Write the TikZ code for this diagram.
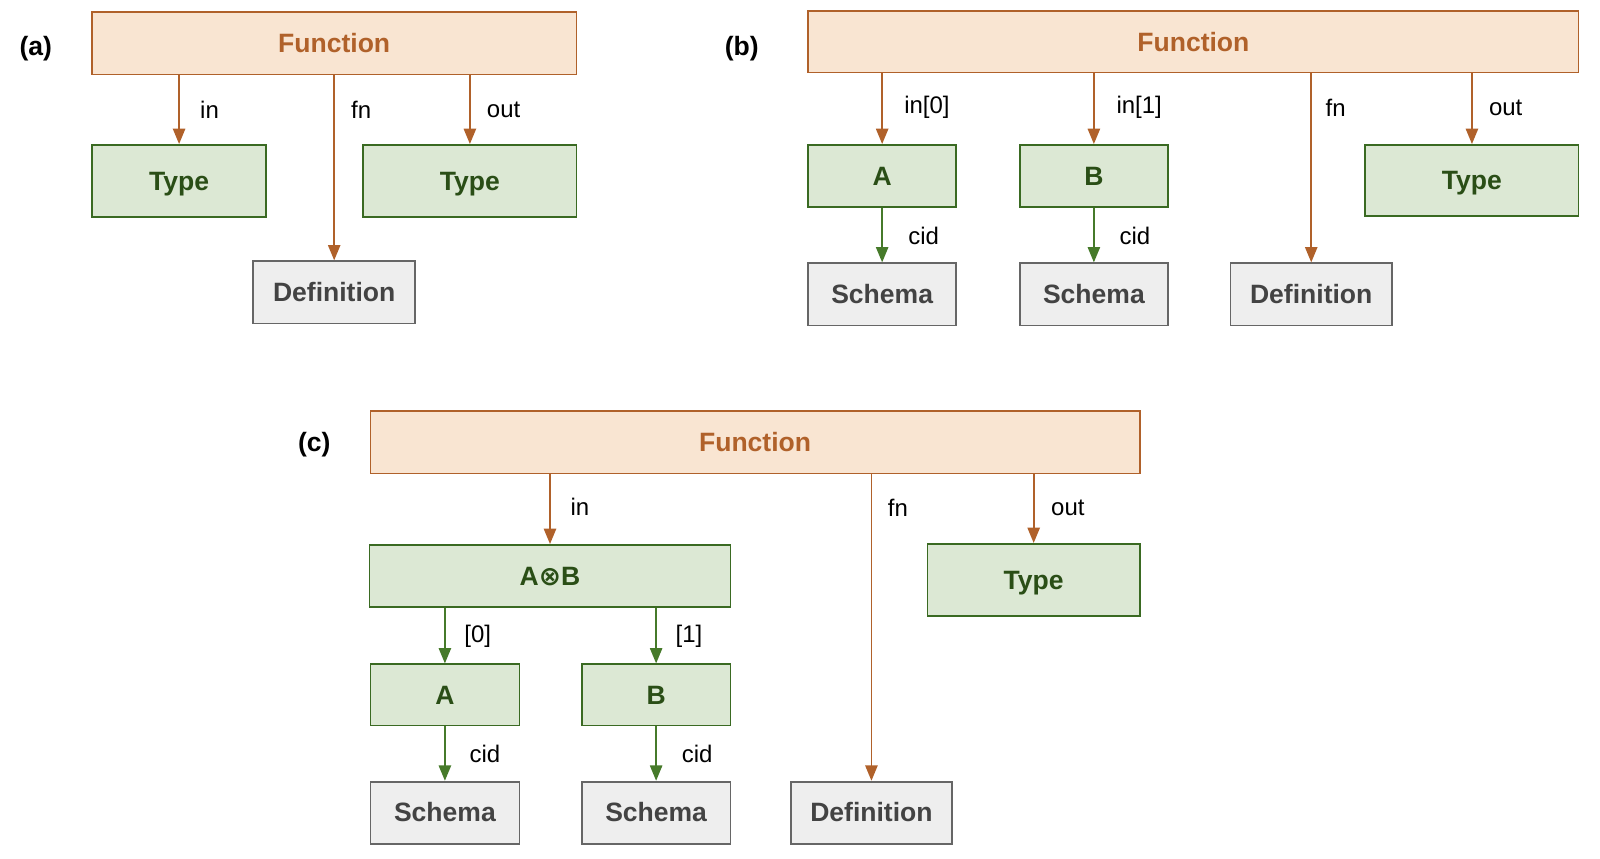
\documentclass[tikz,border=0pt]{standalone}
\usepackage{fontspec}
\setmainfont{Liberation Sans}
\newfontfamily\symfont{DejaVu Sans}
\usetikzlibrary{arrows.meta}
\definecolor{fnfill}{HTML}{F9E5D2}
\definecolor{fnline}{HTML}{B0612A}
\definecolor{tyfill}{HTML}{DCE8D4}
\definecolor{tyline}{HTML}{3A6A22}
\definecolor{tytext}{HTML}{2A4E16}
\definecolor{dffill}{HTML}{EEEEEE}
\definecolor{dfline}{HTML}{666666}
\definecolor{dftext}{HTML}{434343}
\definecolor{garrc}{HTML}{467A2A}
\tikzset{
  box/.style={rectangle, inner sep=0pt, line width=1.7pt, font=\fontsize{26}{30}\selectfont\bfseries, text height=19pt, text depth=1pt},
  fnbox/.style={box, fill=fnfill, draw=fnline, text=fnline},
  tybox/.style={box, fill=tyfill, draw=tyline, text=tytext},
  dfbox/.style={box, fill=dffill, draw=dfline, text=dftext},
  lbl/.style={anchor=west, inner sep=0pt, font=\fontsize{23.5}{28}\selectfont, text=black},
  tag/.style={inner sep=0pt, font=\fontsize{26}{30}\selectfont\bfseries},
  oarr/.style={draw=fnline, line width=1.7pt, -{Triangle[width=12pt,length=15pt]}, fill=fnline},
  garr/.style={draw=garrc, line width=1.7pt, -{Triangle[width=12pt,length=15pt]}, fill=garrc}
}
\begin{document}
\begin{tikzpicture}[x=1pt,y=-1pt]
\useasboundingbox (0,0) rectangle (1568,841);
% ---------- (a)
\node[tag] (la) at (35,48) {(a)};
\node[fnbox, minimum width=475pt, minimum height=61pt] (fa) at (327.5,42.5) {Function};
\node[tybox, minimum width=171pt, minimum height=71pt] (tia) at (175.5,177.5) {Type};
\node[tybox, minimum width=209pt, minimum height=71pt] (toa) at (460.5,177.5) {Type};
\node[dfbox, minimum width=159pt, minimum height=61pt] (da) at (327.5,286.5) {Definition};
\draw[oarr] (fa.south -| tia.north) -- (tia.north);
\draw[oarr] (fa.south -| da.north) -- (da.north);
\draw[oarr] (fa.south -| toa.north) -- (toa.north);
\node[lbl] (lina) at (196,108) {in};
\node[lbl] (lfna) at (344,108) {fn};
\node[lbl] (louta) at (477,108) {out};
% ---------- (b)
\node[tag] (lb) at (727,48) {(b)};
\node[fnbox, minimum width=755pt, minimum height=60pt] (fb) at (1169.5,41) {Function};
\node[tybox, minimum width=145pt, minimum height=61pt] (ab) at (864.5,172.5) {A};
\node[tybox, minimum width=145pt, minimum height=61pt] (bb) at (1072,172.5) {B};
\node[tybox, minimum width=209pt, minimum height=70pt] (tob) at (1442.5,177) {Type};
\node[dfbox, minimum width=145pt, minimum height=61pt] (sab) at (864.5,288.5) {Schema};
\node[dfbox, minimum width=145pt, minimum height=61pt] (sbb) at (1072,288.5) {Schema};
\node[dfbox, minimum width=158pt, minimum height=61pt] (db) at (1285,288.5) {Definition};
\draw[oarr] (fb.south -| ab.north) -- (ab.north);
\draw[oarr] (fb.south -| bb.north) -- (bb.north);
\draw[oarr] (fb.south -| db.north) -- (db.north);
\draw[oarr] (fb.south -| tob.north) -- (tob.north);
\draw[garr] (ab.south) -- (sab.north);
\draw[garr] (bb.south) -- (sbb.north);
\node[lbl] (lin0b) at (886,105) {in[0]};
\node[lbl] (lin1b) at (1094,105) {in[1]};
\node[lbl] (lfnb) at (1299,106) {fn};
\node[lbl] (loutb) at (1459,106) {out};
\node[lbl] (lcab) at (890,231) {cid};
\node[lbl] (lcbb) at (1097,231) {cid};
% ---------- (c)
\node[tag] (lc) at (308,436) {(c)};
\node[fnbox, minimum width=754pt, minimum height=61pt] (fc) at (740,433.5) {Function};
\node[tybox, minimum width=354pt, minimum height=61pt] (abc) at (539,564.5) {A{\symfont ⊗}B};
\node[tybox, minimum width=208pt, minimum height=71pt] (toc) at (1013,568.5) {Type};
\node[tybox, minimum width=146pt, minimum height=60pt] (ac) at (436,681) {A};
\node[tybox, minimum width=146pt, minimum height=60pt] (bc) at (643,681) {B};
\node[dfbox, minimum width=146pt, minimum height=61pt] (sac) at (436,796.5) {Schema};
\node[dfbox, minimum width=146pt, minimum height=61pt] (sbc) at (643,796.5) {Schema};
\node[dfbox, minimum width=158pt, minimum height=61pt] (dc) at (854,796.5) {Definition};
\draw[oarr] (fc.south -| abc.north) -- (abc.north);
\draw[oarr] (fc.south -| dc.north) -- (dc.north);
\draw[oarr] (fc.south -| toc.north) -- (toc.north);
\draw[garr] (abc.south -| ac.north) -- (ac.north);
\draw[garr] (abc.south -| bc.north) -- (bc.north);
\draw[garr] (ac.south) -- (sac.north);
\draw[garr] (bc.south) -- (sbc.north);
\node[lbl] (linc) at (559,497) {in};
\node[lbl] (lfnc) at (870,498) {fn};
\node[lbl] (loutc) at (1030,498) {out};
\node[lbl] (l0c) at (455,624) {[0]};
\node[lbl] (l1c) at (662,624) {[1]};
\node[lbl] (lcac) at (460,739) {cid};
\node[lbl] (lcbc) at (668,739) {cid};
\end{tikzpicture}
\end{document}
